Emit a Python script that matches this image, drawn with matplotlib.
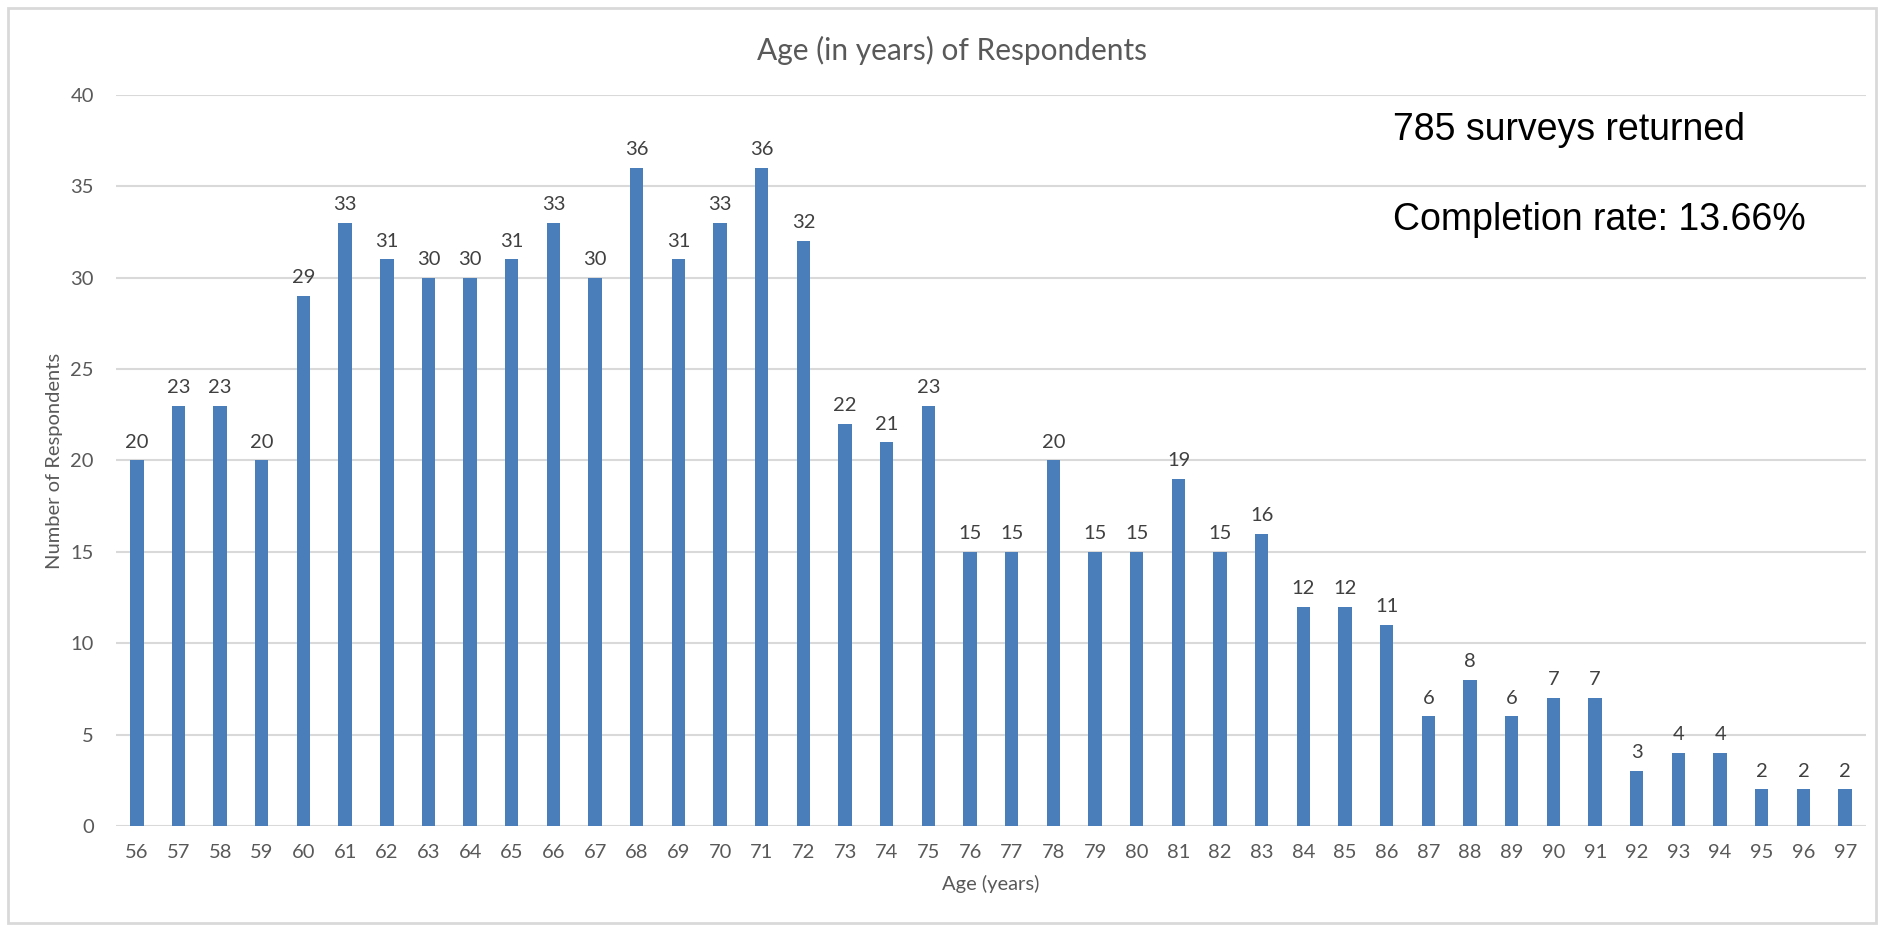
import matplotlib.pyplot as plt
import numpy as np
from matplotlib.patches import Rectangle

ages = list(range(56, 98))
counts = [20, 23, 23, 20, 29, 33, 31, 30, 30, 31, 33, 30, 36, 31, 33, 36, 32,
          22, 21, 23, 15, 15, 20, 15, 15, 19, 15, 16, 12, 12, 11, 6, 8, 6, 7,
          7, 3, 4, 4, 2, 2, 2]
notes = ['785 surveys returned', 'Completion rate: 13.66%']

bar_color = '#4a7ebb'
text_color = '#595959'

plt.rcParams['font.family'] = ['Lato', 'DejaVu Sans']

fig = plt.figure(figsize=(18.81, 9.25), dpi=100)
ax = fig.add_axes([116 / 1881, 1 - 826 / 925, (1866 - 116) / 1881, (826 - 95) / 925])

ind = np.arange(len(ages))
rects = ax.bar(ind, counts, 0.32, color=bar_color, zorder=3)

ax.set_xlim(-0.5, len(ages) - 0.5)
ax.set_ylim(0, 40)
ax.set_yticks(range(0, 41, 5))
ax.set_xticks(ind)
ax.set_xticklabels([str(a) for a in ages])
ax.tick_params(axis='both', length=0, labelsize=14.5, labelcolor=text_color)
ax.tick_params(axis='y', pad=16)
ax.tick_params(axis='x', pad=13)
ax.grid(axis='y', color='#d9d9d9', linewidth=1.5, zorder=0)
for s in ax.spines.values():
    s.set_visible(False)

for rect, v in zip(rects, counts):
    ax.annotate(str(v), (rect.get_x() + rect.get_width() / 2, v),
                xytext=(0, 7), textcoords='offset points',
                ha='center', va='bottom', fontsize=14.5, color='#404040')

ax.set_xlabel('Age (years)', fontsize=14.5, color=text_color, labelpad=10)
ax.set_ylabel('Number of Respondents', fontsize=14.5, color=text_color, labelpad=5)
fig.text(952 / 1881, 1 - 50 / 925, 'Age (in years) of Respondents',
         ha='center', va='center', fontsize=21.5, color=text_color)

fig.text(1393 / 1881, 1 - 130 / 925, notes[0], ha='left', va='center',
         fontsize=27, color='black', family='Liberation Sans')
fig.text(1393 / 1881, 1 - 220 / 925, notes[1], ha='left', va='center',
         fontsize=27, color='black', family='Liberation Sans')

fig.patches.append(Rectangle((8 / 1881, 2 / 925), (1876 - 8) / 1881, (917 - 2) / 925,
                             transform=fig.transFigure, fill=False,
                             edgecolor='#d9d9d9', linewidth=2))

fig.savefig('out.png', dpi=100)
